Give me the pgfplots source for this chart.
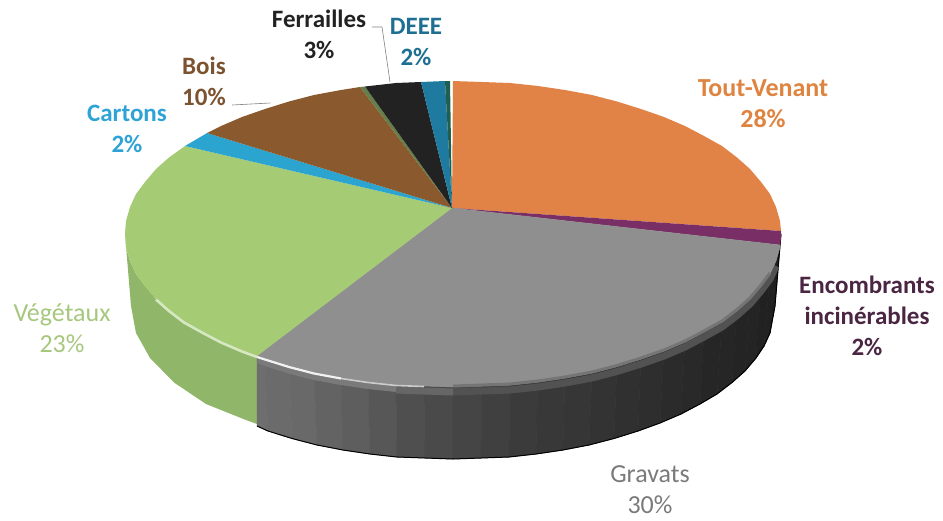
\documentclass[border=0pt]{standalone}
\usepackage{pgfplots}
\pgfplotsset{compat=1.18}
\usepackage{fontspec}
\setmainfont{Carlito}
\definecolor{cOr}{HTML}{E18246}
\definecolor{cPu}{HTML}{7A2E66}
\definecolor{cVe}{HTML}{A5CB75}
\definecolor{cVs}{HTML}{90B669}
\definecolor{cCa}{HTML}{2BA4D0}
\definecolor{cBo}{HTML}{8A5A2E}
\definecolor{cFe}{HTML}{222222}
\definecolor{cDe}{HTML}{1E7A9E}
\definecolor{cDg}{HTML}{1F5F50}
\definecolor{tOr}{HTML}{DE8440}
\definecolor{tEn}{HTML}{4A2642}
\definecolor{tGr}{HTML}{7A7A7A}
\definecolor{tVe}{HTML}{A6C77E}
\definecolor{tCa}{HTML}{2FA3D6}
\definecolor{tBo}{HTML}{7B5330}
\definecolor{tDe}{HTML}{1F6F92}
\begin{document}
\begin{tikzpicture}[x=1pt,y=1pt,
  lab/.style={font=\fontsize{25}{31}\selectfont\bfseries,align=center,anchor=center},
  labr/.style={font=\fontsize{26}{31}\selectfont,align=center,anchor=center},
  sd/.style={fill=black!#1!white,draw=black!#1!white,line width=.5pt}]
\begin{axis}[hide axis,scale only axis,width=943pt,height=520pt,xmin=0,xmax=943,ymin=0,ymax=520,y dir=reverse,clip=false,
  every axis plot/.append style={no markers}]
\path (axis cs:0,0) rectangle (axis cs:943,520);
% side, green
\addplot[fill=cVs,draw=none] coordinates {(125,234)(126,247)(130,261)(136,274)(145,286)(156,299)(169,310.5)(184,322)(202,332)(221,342)(242,351)(257,356)(257,424)(246,420)(206,404)(174,382.5)(150,358)(136,333)(131,306)} -- cycle;
% side, grey shades
\addplot[sd=57] coordinates {(257,356)(265,359)(268,431)(257,426)} -- cycle;
\addplot[sd=58] coordinates {(265,359)(289,366.5)(292,438.5)(268,431)} -- cycle;
\addplot[sd=59] coordinates {(289,366.5)(314,373)(317,445)(292,438.5)} -- cycle;
\addplot[sd=61] coordinates {(314,373)(341,378)(343,450)(317,445)} -- cycle;
\addplot[sd=63] coordinates {(341,378)(368,382)(370,454)(343,450)} -- cycle;
\addplot[sd=66] coordinates {(368,382)(396,385)(397,457)(370,454)} -- cycle;
\addplot[sd=69] coordinates {(396,385)(424,386)(425,458)(397,457)} -- cycle;
\addplot[sd=71] coordinates {(424,386)(453,387)(453,459)(425,458)} -- cycle;
\addplot[sd=73] coordinates {(453,387)(482,386)(481,458)(453,459)} -- cycle;
\addplot[sd=75] coordinates {(482,386)(510,385)(509,457)(481,458)} -- cycle;
\addplot[sd=77] coordinates {(510,385)(538,382)(536,454)(509,457)} -- cycle;
\addplot[sd=78] coordinates {(538,382)(565,378)(563,450)(536,454)} -- cycle;
\addplot[sd=79] coordinates {(565,378)(592,373)(589,445)(563,450)} -- cycle;
\addplot[sd=80] coordinates {(592,373)(617,366.5)(614,438.5)(589,445)} -- cycle;
\addplot[sd=81] coordinates {(617,366.5)(641,359)(638,431)(614,438.5)} -- cycle;
\addplot[sd=82] coordinates {(641,359)(664,351)(660,423)(638,431)} -- cycle;
\addplot[sd=83] coordinates {(664,351)(685,342)(681,414)(660,423)} -- cycle;
\addplot[sd=84] coordinates {(685,342)(704,332)(700,404)(681,414)} -- cycle;
\addplot[sd=85] coordinates {(704,332)(722,322)(717,394)(700,404)} -- cycle;
\addplot[sd=85] coordinates {(722,322)(737,310.5)(732,382.5)(717,394)} -- cycle;
\addplot[sd=86] coordinates {(737,310.5)(750,299)(745,371)(732,382.5)} -- cycle;
\addplot[sd=86] coordinates {(750,299)(761,286)(756,358)(745,371)} -- cycle;
\addplot[sd=87] coordinates {(761,286)(770,274)(764,346)(756,358)} -- cycle;
\addplot[sd=87] coordinates {(770,274)(776,261)(770,333)(764,346)} -- cycle;
\addplot[sd=88] coordinates {(776,261)(781,234)(775,306)(770,333)} -- cycle;
% bottom edge
\addplot[black,line width=1pt] coordinates {(257,426)(268,431)(292,438.5)(317,445)(343,450)(370,454)(397,457)(425,458)(453,459)(481,458)(509,457)(536,454)(563,450)(589,445)(614,438.5)(638,431)(660,423)(681,414)(700,404)(717,394)(732,382.5)(745,371)(756,358)(764,346)(770,333)(775,306)(781,234)};
% top face
\addplot[fill=cOr,draw=none] coordinates {(452,208)(453,81)(482,82)(510,83)(538,86)(565,90)(592,95)(617,101.5)(641,109)(664,117)(685,126)(704,136)(722,146)(737,157.5)(750,169)(761,182)(770,194)(776,207)(780,221)(781,231)} -- cycle;
\addplot[fill=cPu,draw=none] coordinates {(452,208)(781,231)(781,238)(780,245)} -- cycle;
% bevel under the grey rim (drawn before the face)
\addplot[black!68!white,line width=7pt] coordinates {(453,392)(482,391)(510,390)(538,387)(565,383)(592,378)(617,371.5)(641,364)(664,356)(685,347)(704,337)(722,327)(737,315.5)(750,304)(761,291)(770,279)(776,266)};
\addplot[black!60!white,line width=7pt] coordinates {(453,392)(424,391)(396,390)};
\addplot[black!52!white,line width=6pt] coordinates {(396,389)(368,386)(341,382)(314,377)(289,370.5)(265,363)(258,360)};
% grey face
\addplot[sd=44] coordinates {(452,208)(780,245)(780,247)(776,261)(770,274)(761,286)(750,299)(737,310.5)(722,322)(704,332)(685,342)(664,351)(641,359)(617,366.5)(592,373)(565,378)(538,382)(510,385)(482,386)(453,387)(424,386)(396,385)(368,382)(341,378)(314,373)(289,366.5)(265,359)(257,356)} -- cycle;
\addplot[black!54!white,line width=3pt] coordinates {(453,386)(482,385)(510,384)(538,381)(565,377)(592,372)(617,365.5)(641,358)(664,350)(685,341)(704,331)(722,321)(737,309.5)(750,298)(761,285)(770,273)};
\addplot[fill=cVe,draw=none] coordinates {(452,208)(257,356)(242,351)(221,342)(202,332)(184,322)(169,310.5)(156,299)(145,286)(136,274)(130,261)(126,247)(125,234)(126,221)(130,207)(136,194)(145,182)(156,169)(169,157.5)(185,146)} -- cycle;
\addplot[fill=cCa,draw=none] coordinates {(452,208)(185,146)(202,136)(207,133)} -- cycle;
\addplot[fill=cBo,draw=none] coordinates {(452,208)(207,133)(221,126)(242,117)(265,109)(289,101.5)(314,95)(341,90)(360,87)} -- cycle;
\addplot[fill=cVs!70!black,draw=none] coordinates {(452,208)(360,87)(365,86.5)} -- cycle;
\addplot[fill=cFe,draw=none] coordinates {(452,208)(365,86.5)(396,83)(421,82)} -- cycle;
\addplot[fill=cDe,draw=none] coordinates {(452,208)(421,82)(445,81)} -- cycle;
\addplot[fill=cDg,draw=none] coordinates {(452,208)(445,81)(450,81)} -- cycle;
% rim highlights
\addplot[white!90!gray,line width=2.2pt] coordinates {(257,357)(265,359.5)(289,367)(314,373.5)(341,378.5)};
\addplot[white!60!gray,line width=1.6pt] coordinates {(341,378.5)(368,382.5)(396,385.5)(424,386.5)};
\addplot[white!55!cVe,line width=2.6pt] coordinates {(257,357)(242,351.5)(221,342.5)(202,332.5)(184,322.5)(169,311)(156,299.5)};
% leader lines
\addplot[gray,line width=.6pt] coordinates {(372,27)(382,27)(390,82)};
\addplot[gray,line width=.6pt] coordinates {(232,105)(270,103)};
% labels
\node[lab,text=tOr,font=\fontsize{26}{31}\selectfont\bfseries] at (axis cs:763,104) {Tout-Venant\\28\%};
\node[lab,text=tEn] at (axis cs:867,316) {Encombrants\\incinérables\\2\%};
\node[labr,text=tGr] at (axis cs:650,490) {Gravats\\30\%};
\node[labr,text=tVe] at (axis cs:62,328) {Végétaux\\23\%};
\node[lab,text=tCa] at (axis cs:127,129) {Cartons\\2\%};
\node[lab,text=tBo] at (axis cs:204,81) {Bois\\10\%};
\node[lab,text=cFe] at (axis cs:319,34) {Ferrailles\\3\%};
\node[lab,text=tDe] at (axis cs:416,42) {DEEE\\2\%};
\end{axis}
\end{tikzpicture}
\end{document}
